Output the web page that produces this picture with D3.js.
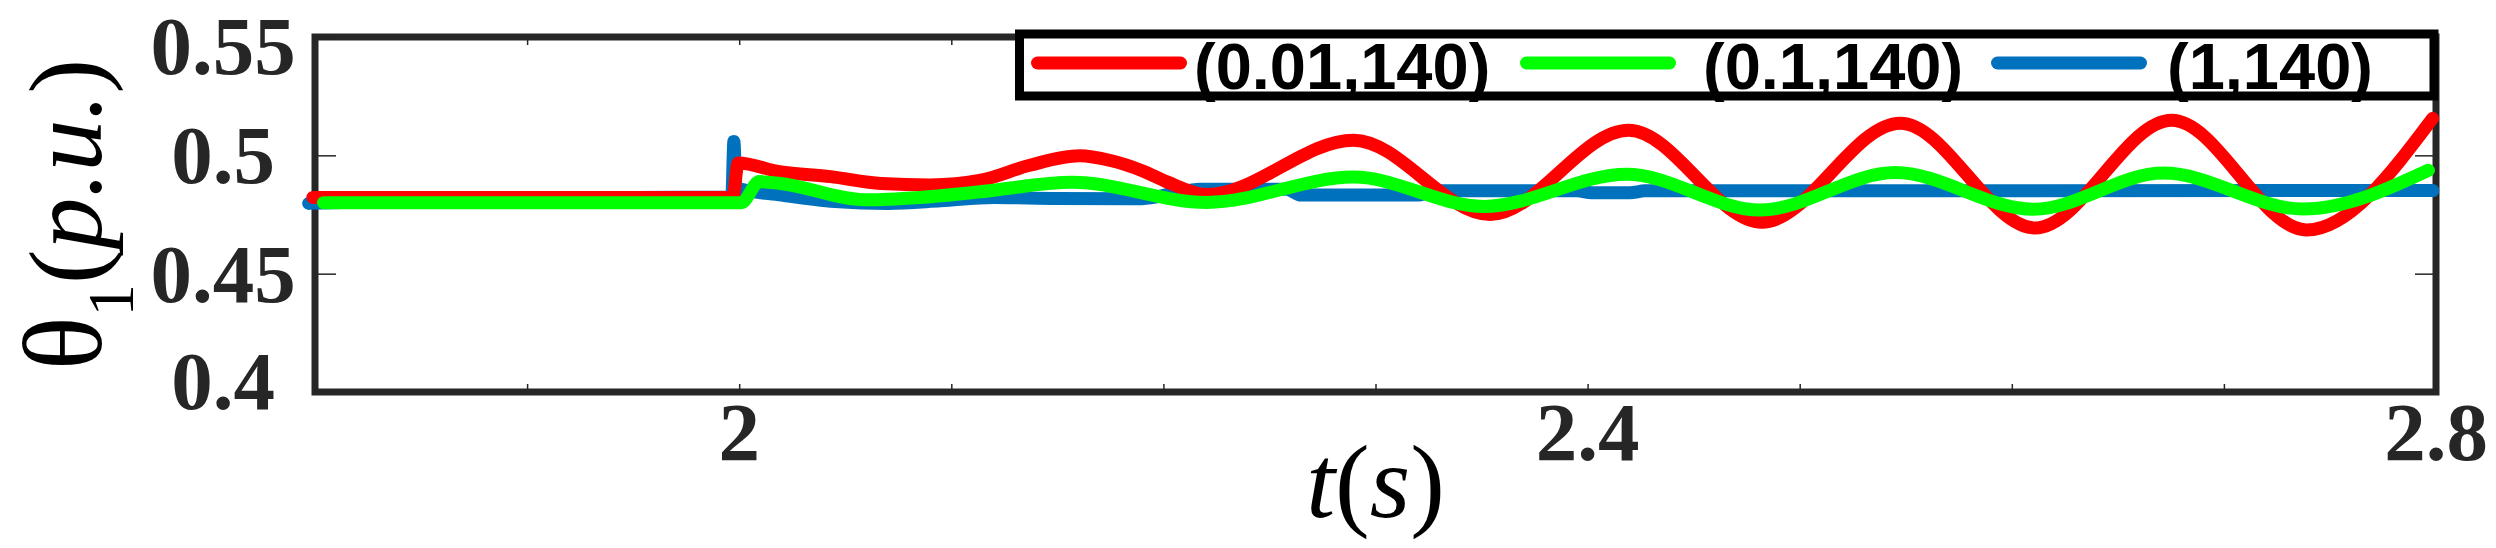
<!DOCTYPE html>
<html>
<head>
<meta charset="utf-8">
<script src="https://cdn.jsdelivr.net/npm/d3@7"></script>
<style>
  body { margin: 0; background: #ffffff; }
  svg { display: block; }
</style>
</head>
<body>
<div id="chart"></div>
<script>
// ---- data ----
var seriesNames = ["(0.01,140)", "(0.1,140)", "(1,140)"];
var seriesColors = ["#ff0000", "#00ff00", "#0072bd"];

// (0.01,140) - red
var redT = [1.799, 1.9, 1.997, 1.9995, 2.019, 2.043, 2.067, 2.09, 2.114, 2.137, 2.1605, 2.175, 2.19, 2.2017, 2.2205,
             2.2897, 2.3541, 2.4193, 2.4822, 2.5474, 2.611, 2.6754, 2.739, 2.7984];
var redV = [0.4822, 0.4822, 0.4822, 0.4968, 0.4931, 0.4910, 0.4881, 0.4875, 0.4895, 0.4958, 0.4998, 0.4978, 0.4935, 0.4888, 0.4834,
            0.5064, 0.4750, 0.5106, 0.4717, 0.5136, 0.4693, 0.5148, 0.4685, 0.5156];

// (0.1,140) - green
var greenT = [1.804, 1.95, 2.001, 2.0095, 2.0194, 2.06, 2.085, 2.1137, 2.157, 2.2205, 2.2897, 2.351, 2.4185,
              2.4814, 2.545, 2.6102, 2.6715, 2.7375, 2.7964];
var greenV = [0.4800, 0.4800, 0.4800, 0.4889, 0.4881, 0.4812, 0.4822, 0.4846, 0.4886, 0.4801, 0.4908, 0.4784, 0.4920,
              0.4769, 0.4927, 0.4772, 0.4925, 0.4773, 0.4937];

// (1,140) - blue
var blueT = [1.797, 1.85, 1.9, 1.95, 1.9965, 1.9975, 1.9985, 2.02, 2.045, 2.07, 2.095, 2.12, 2.15, 2.19, 2.205, 2.217,
             2.258, 2.265, 2.32, 2.328, 2.395, 2.402, 2.42, 2.427, 2.7985];
var blueV = [0.4797, 0.4808, 0.4818, 0.4822, 0.4823, 0.5058, 0.4862, 0.4832, 0.4805, 0.4797, 0.4808, 0.4822, 0.4818, 0.4817, 0.4840, 0.4857,
             0.4857, 0.4832, 0.4832, 0.4850, 0.4850, 0.4842, 0.4842, 0.4850, 0.4851];

var xTicks = [1.8, 1.9, 2.0, 2.1, 2.2, 2.3, 2.4, 2.5, 2.6, 2.7, 2.8];
var xTickLabels = [2, 2.4, 2.8];
var yTicks = [0.4, 0.45, 0.5, 0.55];
var yTickLabels = ["0.4", "0.45", "0.5", "0.55"];

// ---- layout ----
var svgWidth = 2496, svgHeight = 548;
var margin = { top: 37, right: 60, bottom: 156, left: 315 };
var width = svgWidth - margin.left - margin.right;
var height = svgHeight - margin.top - margin.bottom;
var axisColor = "#262626";
var serif = "'Liberation Serif', 'Times New Roman', serif";

var svg = d3.select("#chart").append("svg")
    .attr("width", svgWidth)
    .attr("height", svgHeight)
    .style("background", "#ffffff");

var g = svg.append("g").attr("transform", "translate(" + margin.left + "," + margin.top + ")");

var x = d3.scaleLinear().domain([1.8, 2.8]).range([0, width]);
var y = d3.scaleLinear().domain([0.4, 0.55]).range([height, 0]);

// box
g.append("rect")
    .attr("x", 0).attr("y", 0)
    .attr("width", width).attr("height", height)
    .attr("fill", "none")
    .attr("stroke", axisColor)
    .attr("stroke-width", 7);

// tick marks (inward, all four sides)
function styleTicks(sel) {
    sel.select(".domain").remove();
    sel.selectAll(".tick line").attr("stroke", axisColor).attr("stroke-width", 1.5);
}
g.append("g").attr("transform", "translate(0," + height + ")")
    .call(d3.axisBottom(x).tickValues(xTicks).tickSize(-8).tickFormat(""))
    .call(styleTicks);
g.append("g")
    .call(d3.axisTop(x).tickValues(xTicks).tickSize(-8).tickFormat(""))
    .call(styleTicks);
g.append("g")
    .call(d3.axisLeft(y).tickValues(yTicks).tickSize(-21).tickFormat(""))
    .call(styleTicks);
g.append("g").attr("transform", "translate(" + width + ",0)")
    .call(d3.axisRight(y).tickValues(yTicks).tickSize(-21).tickFormat(""))
    .call(styleTicks);

// x tick labels
g.selectAll(".xlab")
    .data(xTickLabels)
    .enter().append("text")
    .attr("class", "xlab")
    .attr("x", function (d) { return x(d); })
    .attr("y", height + 68)
    .attr("text-anchor", "middle")
    .attr("font-family", serif)
    .attr("font-weight", "bold")
    .attr("font-size", 83)
    .attr("fill", axisColor)
    .text(function (d) { return d; });

// y tick labels (clamped inside the axis extent like the original)
g.selectAll(".ylab")
    .data(yTicks)
    .enter().append("text")
    .attr("class", "ylab")
    .attr("x", -92)
    .attr("y", function (d) { return Math.min(Math.max(y(d) + 28, 37), height + 17); })
    .attr("text-anchor", "middle")
    .attr("font-family", serif)
    .attr("font-weight", "bold")
    .attr("font-size", 83)
    .attr("fill", axisColor)
    .text(function (d, i) { return yTickLabels[i]; });

// axis labels
var xl = svg.append("text")
    .attr("x", margin.left + width / 2)
    .attr("y", 517)
    .attr("text-anchor", "middle")
    .attr("font-family", serif)
    .attr("font-size", 104)
    .attr("fill", "#000");
xl.append("tspan").attr("font-style", "italic").text("t");
xl.append("tspan").text("(");
xl.append("tspan").attr("font-style", "italic").text("s");
xl.append("tspan").text(")");

var yl = svg.append("text")
    .attr("transform", "translate(101," + (margin.top + height / 2) + ") rotate(-90)")
    .attr("text-anchor", "middle")
    .attr("font-family", serif)
    .attr("font-size", 104)
    .attr("fill", "#000");
yl.append("tspan").attr("font-size", 112).text("\u03b8");
yl.append("tspan").attr("font-size", 65).attr("dy", 32).text("1");
yl.append("tspan").attr("dy", -32).text("(");
yl.append("tspan").attr("font-style", "italic").text("p.u.");
yl.append("tspan").text(")");

// curves
var line = d3.line()
    .x(function (d) { return x(d[0]); })
    .y(function (d) { return y(d[1]); })
    .curve(d3.curveMonotoneX);

function pairs(ts, vs) { return ts.map(function (t, i) { return [t, vs[i]]; }); }

var drawOrder = [
    { data: pairs(blueT, blueV), color: seriesColors[2] },
    { data: pairs(redT, redV), color: seriesColors[0] },
    { data: pairs(greenT, greenV), color: seriesColors[1] }
];
drawOrder.forEach(function (s) {
    g.append("path")
        .attr("fill", "none")
        .attr("stroke", s.color)
        .attr("stroke-width", 13)
        .attr("stroke-linejoin", "round")
        .attr("stroke-linecap", "round")
        .attr("d", line(s.data));
});

// legend
var legend = svg.append("g");
legend.append("rect")
    .attr("x", 1019.5).attr("y", 34)
    .attr("width", 1414.5).attr("height", 62)
    .attr("fill", "#ffffff")
    .attr("stroke", "#000000")
    .attr("stroke-width", 9);

var legendLineX = [1037.5, 1526.5, 1997.5];
var legendTextX = [1194, 1703, 2167];
seriesNames.forEach(function (name, i) {
    legend.append("line")
        .attr("x1", legendLineX[i]).attr("x2", legendLineX[i] + 143)
        .attr("y1", 63).attr("y2", 63)
        .attr("stroke", seriesColors[i])
        .attr("stroke-width", 13)
        .attr("stroke-linecap", "round");
    legend.append("text")
        .attr("x", legendTextX[i])
        .attr("y", 89)
        .attr("font-family", "'Liberation Sans', Arial, sans-serif")
        .attr("font-weight", "bold")
        .attr("font-size", 65)
        .attr("fill", "#000")
        .text(name);
});
</script>
</body>
</html>
